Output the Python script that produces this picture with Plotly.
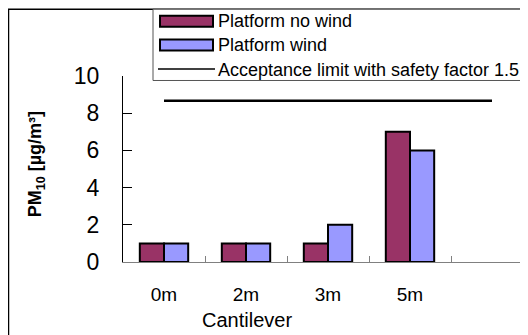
import plotly.graph_objects as go

categories = ["0m", "2m", "3m", "5m"]
axis_categories = ["0m", "2m", "3m", "5m", " "]
no_wind = [1, 1, 1, 7]
wind = [1, 1, 2, 6]
limit_value = 8.67
limit_x = ["0m", "2m", "3m", "5m", " "]
limit_y = [limit_value] * len(limit_x)
y_ticks = [0, 2, 4, 6, 8, 10]

OFF = 8  # page body margin
W, H = 528 - OFF, 335 - OFF
L, R = 123 - OFF, 528 - OFF
T, B = 75.5 - OFF, 262 - OFF

def px(x):
    return (x - OFF - L) / (R - L)

def py(y):
    return (B - (y - OFF)) / (B - T)

FONT = "Arial, 'Liberation Sans', sans-serif"
MAROON = "#993366"
BLUE = "#9999FF"

fig = go.Figure()
fig.add_trace(go.Bar(x=categories, y=no_wind, name="Platform no wind",
                     marker=dict(color=MAROON, line=dict(color="black", width=2)),
                     showlegend=False))
fig.add_trace(go.Bar(x=categories, y=wind, name="Platform wind",
                     marker=dict(color=BLUE, line=dict(color="black", width=2)),
                     showlegend=False))
fig.add_trace(go.Scatter(x=limit_x, y=limit_y, mode="lines",
                         name="Acceptance limit with safety factor 1.5",
                         line=dict(color="black", width=2.5), showlegend=False))

shapes = []
annotations = []
# outer chart frame
shapes.append(dict(type="rect", xref="paper", yref="paper",
                   x0=px(8.5), x1=px(540), y0=py(345), y1=py(8.5),
                   line=dict(color="black", width=1.5), layer="below"))
# legend box
shapes.append(dict(type="rect", xref="paper", yref="paper",
                   x0=px(153), x1=px(540), y0=py(80), y1=py(8.5),
                   line=dict(color="#555555", width=1), fillcolor="white"))
legend_items = [("Platform no wind", MAROON, 20.5), ("Platform wind", BLUE, 44.5)]
for name, col, yc in legend_items:
    shapes.append(dict(type="rect", xref="paper", yref="paper",
                       x0=px(160), x1=px(213), y0=py(yc + 5.5), y1=py(yc - 5.5),
                       fillcolor=col, line=dict(color="black", width=2)))
    annotations.append(dict(text=name, xref="paper", yref="paper", x=px(216), y=py(yc),
                            xanchor="left", yanchor="middle", showarrow=False,
                            font=dict(family=FONT, size=18, color="black")))
shapes.append(dict(type="line", xref="paper", yref="paper",
                   x0=px(158), x1=px(215), y0=py(68.5), y1=py(68.5),
                   line=dict(color="black", width=1.5)))
annotations.append(dict(text="Acceptance limit with safety factor 1.5", xref="paper", yref="paper",
                        x=px(216), y=py(69), xanchor="left", yanchor="middle", showarrow=False,
                        font=dict(family=FONT, size=18, color="black")))
# axis titles
annotations.append(dict(text="<b>PM<sub>10</sub> [µg/m³]</b>", xref="paper", yref="paper",
                        x=px(36), y=py(164), textangle=-90, showarrow=False,
                        xanchor="center", yanchor="middle",
                        font=dict(family=FONT, size=18, color="black")))
annotations.append(dict(text="Cantilever", xref="paper", yref="paper",
                        x=px(247), y=py(320), showarrow=False,
                        xanchor="center", yanchor="middle",
                        font=dict(family=FONT, size=20, color="black")))

fig.update_layout(
    width=W, height=H,
    margin=dict(l=L, r=W - R, t=T, b=H - B, pad=0),
    paper_bgcolor="white", plot_bgcolor="white",
    barmode="group", bargap=0.41, bargroupgap=0,
    showlegend=False,
    shapes=shapes, annotations=annotations,
    xaxis=dict(type="category", categoryorder="array", categoryarray=axis_categories,
               range=[-0.5, -0.5 + (R - L) / 82.0],
               showline=True, linecolor="#808080", linewidth=1,
               ticks="inside", ticklen=6, tickcolor="#808080", tickson="boundaries",
               tickfont=dict(family=FONT, size=19, color="black"),
               ticklabelstandoff=15,
               showgrid=False, zeroline=False, fixedrange=True),
    yaxis=dict(range=[0, 10], tickvals=y_ticks,
               showline=True, linecolor="black", linewidth=1,
               ticks="inside", ticklen=9, tickcolor="black",
               tickfont=dict(family=FONT, size=23, color="black"),
               ticklabelstandoff=18,
               showgrid=False, zeroline=False, fixedrange=True),
)

fig.write_html("out.html")
